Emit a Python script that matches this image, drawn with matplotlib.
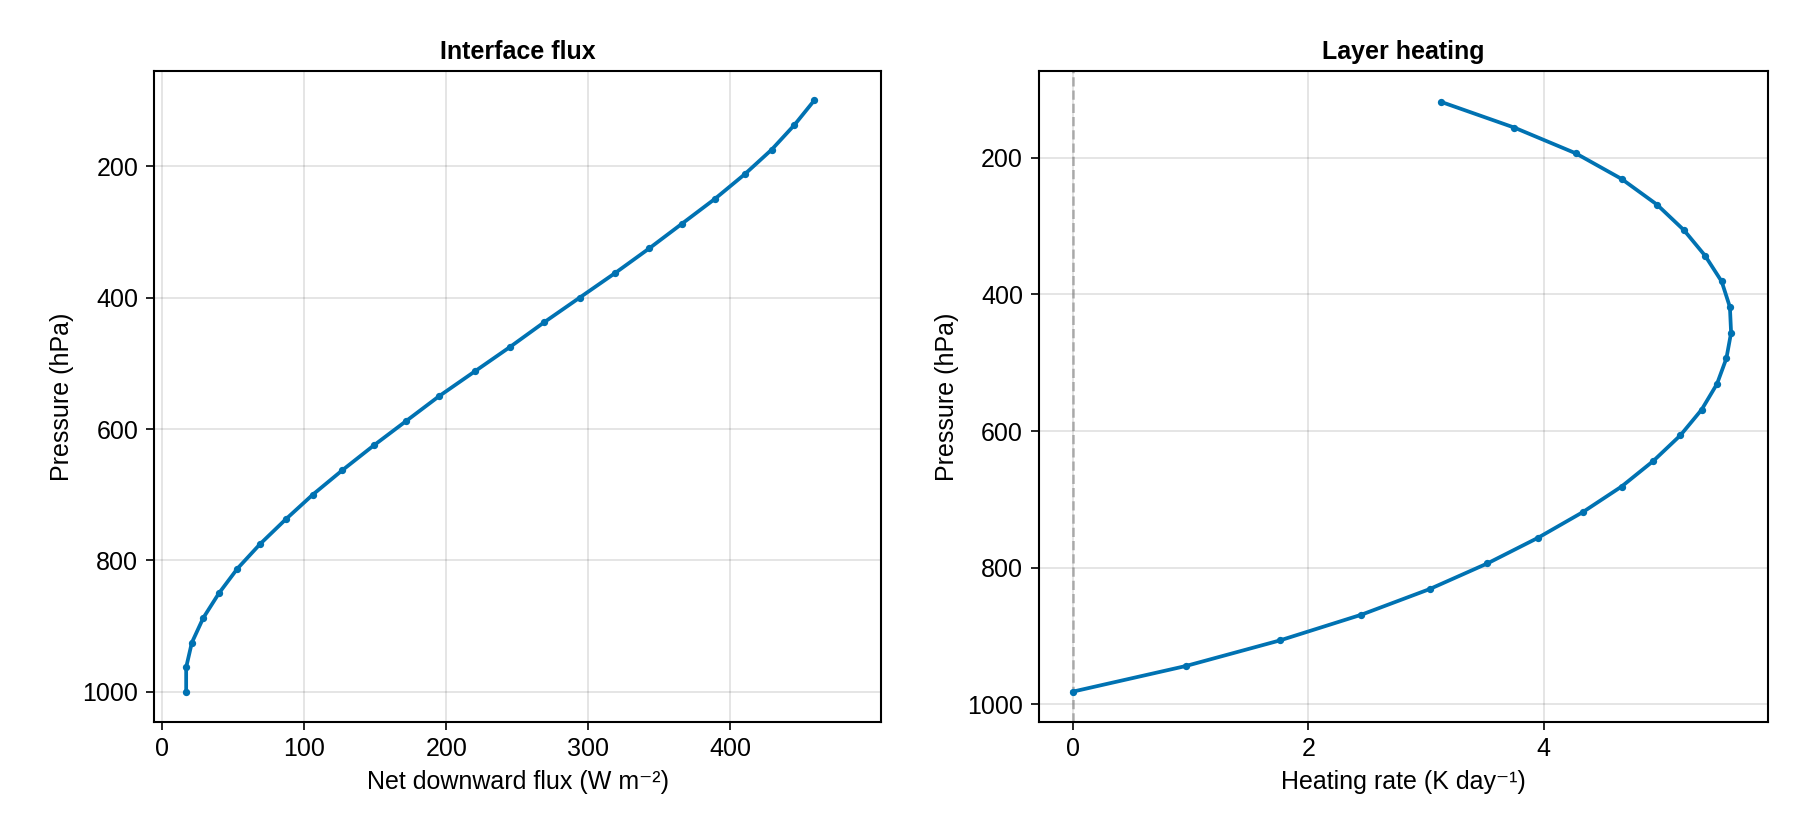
import numpy as np
import matplotlib
matplotlib.use("Agg")
import matplotlib.pyplot as plt

p_iface = [100, 137.5, 175, 212.5, 250, 287.5, 325, 362.5, 400, 437.5, 475, 512.5, 550,
           587.5, 625, 662.5, 700, 737.5, 775, 812.5, 850, 887.5, 925, 962.5, 1000]
flux = [459, 445, 429, 410, 389, 366, 343, 319, 294, 269, 245, 220, 195,
        172, 149, 127, 106, 87, 69, 53, 40, 29, 21, 17, 17]

p_layer = [118.75, 156.25, 193.75, 231.25, 268.75, 306.25, 343.75, 381.25, 418.75, 456.25,
           493.75, 531.25, 568.75, 606.25, 643.75, 681.25, 718.75, 756.25, 793.75, 831.25,
           868.75, 906.25, 943.75, 981.25]
heat = [3.13, 3.75, 4.27, 4.66, 4.96, 5.19, 5.37, 5.51, 5.58, 5.59,
        5.55, 5.47, 5.34, 5.16, 4.93, 4.66, 4.33, 3.95, 3.52, 3.03,
        2.45, 1.76, 0.96, 0.0]

plt.rcParams.update({"font.family": ["Liberation Sans", "DejaVu Sans"], "font.size": 12})
C = "#0072B2"
fig = plt.figure(figsize=(12, 5.6), dpi=150)
ax1 = fig.add_axes([0.0855, 0.141, 0.404, 0.774])
ax2 = fig.add_axes([0.577, 0.141, 0.405, 0.774])

ax1.plot(flux, p_iface, '-o', color=C, lw=1.8, ms=2.5)
ax1.set(xlim=(-5.7, 506), ylim=(1045, 56))
ax1.set_xticks([0, 100, 200, 300, 400]); ax1.set_yticks([200, 400, 600, 800, 1000])
ax1.set_title("Interface flux", fontweight="bold", fontsize=12)
ax1.set_xlabel("Net downward flux (W m⁻²)"); ax1.set_ylabel("Pressure (hPa)")

ax2.axvline(0, color="gray", ls="--", lw=1.2, alpha=0.6)
ax2.plot(heat, p_layer, '-o', color=C, lw=1.8, ms=2.5)
ax2.set(xlim=(-0.29, 5.9), ylim=(1025, 74))
ax2.set_xticks([0, 2, 4]); ax2.set_yticks([200, 400, 600, 800, 1000])
ax2.set_title("Layer heating", fontweight="bold", fontsize=12)
ax2.set_xlabel("Heating rate (K day⁻¹)"); ax2.set_ylabel("Pressure (hPa)")

for ax in (ax1, ax2):
    ax.grid(True, color="black", alpha=0.12, lw=0.8)
    ax.tick_params(direction="out", length=4)
    for s in ax.spines.values():
        s.set_linewidth(1.0)

fig.savefig("out.png", dpi=150)
